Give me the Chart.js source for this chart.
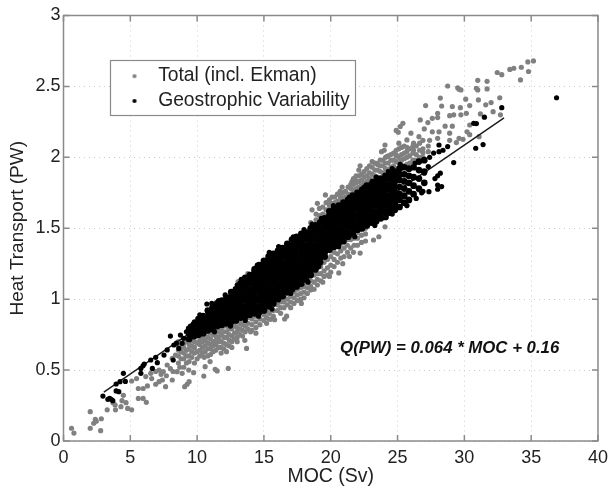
<!DOCTYPE html>
<html>
<head>
<meta charset="utf-8">
<title>Heat transport vs MOC</title>
<script src="https://cdn.jsdelivr.net/npm/chart.js@4"></script>
<style>
    html, body { margin: 0; padding: 0; background: #fff; }
    canvas { display: block; }
</style>
</head>
<body>
<canvas id="myChart" width="614" height="486"></canvas>
<script>
// Axis ticks
const xTicks = [0, 5, 10, 15, 20, 25, 30, 35, 40];
const yTicks = [0, 0.5, 1, 1.5, 2, 2.5, 3];

const seriesNames = ["Total (incl. Ekman)", "Geostrophic Variability"];
const equationText = "Q(PW) = 0.064 * MOC + 0.16";

// Fit line
const fitX = [3.02, 32.97];
const fitY = [0.345, 2.278];

// Grey dots, scattered ones as [x, y]
const totalScatter = [
    [.6,.09],[.78,.056],[2,.207],[2,.09],[2.78,.073],[2.83,.157],[2.38,.153],[2.26,.125],[2.45,.14],
    [3.27,.22],[3.86,.254],[3.89,.22],[4.3,.242],[4.68,.27],[4.8,.23],[5.1,.22],[4.38,.284],[4.48,.322],[3.7,.27],
    [5.6,.37],[5.6,.3],[5.96,.3],[6.2,.273],[6.28,.388],[5.96,.37],[5.1,.423],[5.47,.44],[6.16,.454],[6.53,.477],
    [6.9,.49],[7.15,.5],[7.47,.49],[7.15,.418],[7.4,.43],[7.64,.383],[6.9,.4],[8.14,.43],[7.76,.536],[8.14,.583],
    [8.38,.606],[8.5,.489],[8.88,.477],[9.07,.383],[9.25,.4],[9.4,.418],[9.37,.5],[9.74,.482],[10.5,.458],[10.6,.524],
    [11.35,.505],[11.5,.494],[12.33,.512],[10.53,.59],[10.97,.56],[7.3,.47],[7.7,.46],[8.2,.49],[8.7,.52],[6.6,.44],
    [8,.51],[13.7,.653],[13.57,.71],[14,.77],[15.5,.858],[15.8,.855],[16.55,.86],[16.7,.88],[13.07,1.124],[13.8,1.18],
    [14.3,1.218],[14.7,1.24],
    [35.17,2.68],[34.75,2.673],[34.26,2.635],[33.7,2.628],[33.4,2.62],[34.8,2.605],[34.2,2.546],[32.46,2.598],[32.8,2.583],
    [31,2.543],[31.7,2.536],[28.75,2.503],[29.5,2.49],[29.74,2.475],[29.6,2.48],[30.9,2.487],[31,2.475],[31.7,2.482],
    [28.2,2.418],[30.1,2.41],[31.05,2.405],[32.65,2.42],[32,2.386],[31.6,2.37],[30.4,2.365],[29.7,2.35],[29.1,2.358],
    [28.3,2.362],[27.1,2.365],[28,2.31],[28.9,2.294],[29.2,2.3],[29.74,2.3],[30.15,2.31],[31.2,2.306],[32.15,2.322],
    [32.7,2.3],[26.7,2.264],[27.6,2.275],[27.27,2.245],[28,2.28],[25.4,2.24],[25.2,2.217],[24.9,2.19],[25.05,2.177],
    [27,2.2],[28.56,2.22],[29.1,2.22],[30.4,2.228],[28.9,2.17],[30.2,2.18],[30.4,2.16],[31.1,2.146],[28.1,2.18],[27.6,2.18],
    [29.6,2.134],[29.9,2.127],[29.4,2.104],[28.9,2.12],[28,2.134],[27.4,2.12],[26,2.17],[25.7,2.123],[26.6,2.146],[26.2,2.1],
    [24.06,2.087],[23.8,2.04],[24,2.05],[25.7,2.04],[26.2,2.05],[26.9,2.033],[24.9,2.017],[24.2,2.005],[23.4,1.958],
    [22.2,1.94],[22.1,1.91],[21.85,1.84],[21.6,1.83],[20.85,1.79],[20.7,1.76],[20,1.676],[19.6,1.735],[19,1.676],[18.6,1.63],
    [23.2,1.417],[23.6,1.44],[24.06,1.51],[25.7,1.66],[26.6,1.77],[22.2,1.325],[21.7,1.33],[21.4,1.3],[20.6,1.185],[20.9,1.25],
    [18.5,1.065],[17.8,.97],[19.4,1.12],[19.9,1.16]
];

// Grey dense parts as [x, y, y, ...] columns
const totalLower = [
    [8.6,.55,.6,.64,.67,.7],[8.8,.58,.63,.68],[9,.52,.58,.62,.66,.69,.72],[9.2,.55,.6,.64,.7],[9.4,.56,.6,.65,.68,.72,.75],
    [9.6,.59,.63,.67,.71],[9.8,.55,.62,.66,.7,.73,.77],[10,.58,.63,.69,.74],[10.2,.6,.64,.68,.71,.75],[10.4,.62,.66,.7,.73,.77],
    [10.6,.63,.67,.71,.74,.78],[10.8,.6,.65,.69,.73,.77],[11,.61,.65,.68,.72,.76,.8],[11.2,.63,.67,.7,.75,.79],[11.4,.64,.68,.71,.74,.78,.82],
    [11.6,.66,.7,.73,.77,.81],[11.8,.62,.66,.7,.75,.79,.83],[12,.65,.69,.73,.77,.81],[12.2,.63,.68,.73,.77,.81,.85],[12.4,.67,.71,.75,.79,.83],
    [12.6,.66,.7,.74,.79,.83],[12.8,.72,.76,.81,.85],[13,.7,.73,.77,.8,.84,.88],[13.2,.75,.79,.83,.87],[13.4,.74,.78,.82,.86,.9],
    [13.6,.77,.81,.85,.89],[13.8,.79,.83,.87,.91],[14.1,.78,.82,.86,.9],[14.4,.76,.8,.84,.88,.92],[14.7,.82,.86,.9,.94],
    [15,.85,.89,.93,.97],[15.2,.83,.87,.91,.95],[15.4,.86,.9,.94,.98],[15.7,.88,.92,.96,1],[16,.92,.96,1,1.03],[16.25,.9,.94,.98,1.02],
    [16.5,.94,.98,1.02],[16.75,.96,1,1.04],[17,.94,.98,1.02,1.06],[17.25,.97,1.01,1.05],[17.5,.99,1.03,1.07,1.11],[17.75,1,1.04,1.08],
    [18,1.01,1.05,1.09,1.13],[18.25,1.04,1.08,1.12],[18.5,1.09,1.13,1.17],[18.75,1.07,1.12,1.17],[19,1.1,1.14,1.18,1.22],[19.25,1.13,1.18,1.23],
    [19.5,1.16,1.2,1.26],[19.75,1.17,1.22,1.28],[20,1.19,1.24,1.3,1.34],[20.25,1.23,1.28,1.33],[20.5,1.26,1.32,1.38],
    [20.75,1.29,1.34,1.39],[21,1.3,1.36,1.4],[21.25,1.33,1.38,1.42],[21.5,1.36,1.42],[21.75,1.38,1.43],[22,1.38,1.43,1.47],[22.3,1.4,1.45,1.49],[22.6,1.41,1.46,1.5]
];
const totalUpper = [
    [18.5,1.5,1.54],[18.9,1.52,1.56,1.6],[19.15,1.55,1.59,1.64],[19.4,1.56,1.6,1.65],[19.65,1.59,1.63,1.68],[19.9,1.62,1.66,1.7],
    [20.1,1.63,1.67,1.72],[20.3,1.64,1.68,1.72],[20.5,1.65,1.69,1.74],[20.7,1.66,1.7,1.73],[20.9,1.67,1.71,1.75],
    [21.1,1.68,1.72,1.76],[21.3,1.7,1.74,1.79],[21.5,1.7,1.74,1.78,1.81],[21.7,1.73,1.77,1.81,1.85],[21.9,1.74,1.78,1.82,1.87],[22.1,1.75,1.79,1.83,1.87],
    [22.3,1.76,1.8,1.84,1.88],[22.5,1.78,1.82,1.86,1.9],[22.7,1.79,1.83,1.87,1.92],[22.9,1.8,1.85,1.89,1.94],
    [23.1,1.8,1.84,1.88,1.93,1.97],[23.3,1.83,1.87,1.91,1.96],[23.5,1.82,1.86,1.91,1.95],[23.7,1.85,1.9,1.94,1.98],[23.9,1.84,1.89,1.94,1.98],[24.1,1.87,1.92,1.96,2],
    [24.3,1.87,1.91,1.96,2.01],[24.5,1.89,1.93,1.98,2.02],[24.7,1.9,1.94,1.98,2.03],[24.9,1.92,1.97,2.01,2.05],[25.1,1.92,1.96,2,2.06,2.1],[25.3,1.94,1.98,2.02,2.07],
    [25.5,1.94,1.99,2.03,2.08],[25.7,1.95,2,2.07],[25.9,1.96,2.01,2.06],[26.15,1.98,2.03,2.08],[26.4,1.98,2.02,2.08],[26.65,2,2.05,2.1],
    [26.9,2,2.06,2.12],[27.3,2.04,2.08]
];

// Black dots
const geoScatter = [
    [2.95,.317],[3.32,.294],[3.57,.294],[3.69,.284],[3.45,.3],[3.94,.353],[4.14,.348],[3.94,.402],[4.23,.418],[4.63,.42],
    [4.48,.477],[5.79,.512],[5.79,.477],[6.04,.543],[5.95,.53],[6.65,.512],[6.53,.571],[6.9,.59],[7.02,.552],[7.52,.606],
    [8.21,.571],[8,.74],[8.75,.747],[8.88,.689],[8.26,.677],[7.76,.642],[8.63,.653],[9,.724],[8.45,.69],[10.73,.966],[11.1,.97],
    [36.9,2.42],[32.8,2.35],[31.5,2.283],[30.7,2.24],[30.9,2.238],[30.85,2.064],[31.4,2.09],[29.2,1.963],[28.1,2.087],
    [28.75,2.076],[28.4,2.05],[28.1,2.04],[27.7,2.03],[27.4,2],[28.2,1.888],[28,1.87],[28.3,1.794],[28,1.805],[28,1.775],
    [27.35,1.758],[26.9,1.76],[26.4,1.71],[27,1.888],[27.3,1.935],[26.3,1.958],[25.4,1.935],[24.6,1.92],[23.4,1.86],
    [9.2,.77],[9.5,.81],[9.8,.84],[10.2,.89],[11.6,.99],[12.1,1.03],[13,1.1],[13.3,1.14],[14.5,1.24],[15.4,1.33],[16.1,1.37],
    [17.2,1.44],[18,1.49],[18.6,1.53],[19.3,1.57],[20.2,1.66],[21.4,1.72],[22.5,1.79],[23.1,1.83],[24.3,1.9],[25.2,1.95],
    [11.3,.77],[12.5,.81],[13.6,.85],[14.6,.88],[15.6,.93],[17,1.04],[18.3,1.12],[19.1,1.23],[20.6,1.37],[21.8,1.44],[23.3,1.52],
    [24.6,1.6],[25.7,1.66],[26.8,1.75],[27.8,1.85]
];
const geoCore = [
    [9.4,.72,.76,.79],[9.75,.74,.78,.82],[10.1,.75,.79,.83,.86],[10.45,.76,.8,.84,.88],[10.8,.78,.81,.85,.88,.92],
    [11.15,.79,.83,.86,.9,.94],[11.5,.81,.84,.88,.91,.95,.97],[11.85,.82,.86,.89,.93,.96,.99],[12.2,.83,.87,.9,.94,.97,1.01],
    [12.55,.84,.88,.92,.95,.99,1.02,1.05],[12.9,.85,.89,.93,.96,1,1.03,1.07],[13.25,.87,.91,.94,.98,1.01,1.05,1.08,1.11],
    [13.6,.88,.92,.95,.99,1.02,1.06,1.09,1.13,1.15],[13.95,.89,.93,.97,1,1.04,1.07,1.11,1.14,1.17],
    [14.3,.9,.94,.98,1.01,1.05,1.08,1.12,1.15,1.19,1.21],[14.65,.91,.95,.99,1.02,1.06,1.09,1.13,1.16,1.2,1.24],
    [15,.92,.96,1,1.03,1.07,1.1,1.14,1.17,1.21,1.24,1.27],[15.35,.95,.99,1.02,1.06,1.09,1.13,1.16,1.2,1.23,1.27,1.3],
    [15.7,.97,1,1.04,1.07,1.11,1.14,1.18,1.21,1.25,1.28,1.32],[16.05,1,1.03,1.07,1.1,1.14,1.17,1.21,1.24,1.28,1.31,1.34],
    [16.4,1.02,1.05,1.09,1.12,1.16,1.19,1.23,1.26,1.3,1.33,1.36],[16.75,1.05,1.08,1.12,1.15,1.19,1.22,1.26,1.29,1.33,1.36,1.39],
    [17.1,1.07,1.1,1.14,1.17,1.21,1.24,1.28,1.31,1.35,1.38,1.42],[17.45,1.09,1.12,1.16,1.19,1.23,1.26,1.3,1.33,1.37,1.4,1.44],
    [17.8,1.11,1.15,1.18,1.22,1.25,1.29,1.32,1.36,1.39,1.43,1.46],[18.15,1.14,1.17,1.21,1.24,1.28,1.31,1.35,1.38,1.42,1.45,1.47],
    [18.5,1.17,1.2,1.24,1.27,1.31,1.34,1.38,1.41,1.45,1.48,1.5],[18.85,1.21,1.24,1.28,1.31,1.35,1.38,1.42,1.45,1.49,1.52],
    [19.2,1.26,1.29,1.33,1.36,1.4,1.43,1.47,1.5,1.54],[19.55,1.3,1.33,1.37,1.4,1.44,1.47,1.51,1.54,1.57],
    [19.9,1.35,1.38,1.42,1.45,1.49,1.52,1.56,1.59,1.62],[20.25,1.37,1.4,1.44,1.47,1.51,1.54,1.58,1.61,1.64],
    [20.6,1.4,1.43,1.47,1.5,1.54,1.57,1.61,1.64,1.66],[20.95,1.41,1.45,1.48,1.52,1.55,1.59,1.62,1.65,1.68],
    [21.3,1.44,1.47,1.51,1.54,1.58,1.61,1.65,1.68,1.7],[21.65,1.46,1.5,1.53,1.57,1.6,1.64,1.67,1.71,1.73],
    [22,1.49,1.52,1.56,1.59,1.63,1.66,1.7,1.73,1.75],[22.35,1.5,1.54,1.57,1.61,1.64,1.68,1.71,1.75,1.77],
    [22.7,1.52,1.56,1.59,1.63,1.66,1.7,1.73,1.77,1.8],[23.05,1.54,1.58,1.61,1.65,1.68,1.72,1.75,1.79,1.81],
    [23.4,1.55,1.59,1.62,1.66,1.7,1.73,1.77,1.8,1.83],[23.75,1.57,1.61,1.65,1.68,1.72,1.75,1.79,1.82,1.85],
    [24.1,1.58,1.62,1.66,1.7,1.73,1.77,1.8,1.84,1.87],[24.45,1.61,1.65,1.69,1.73,1.77,1.81,1.85,1.88],
    [24.8,1.63,1.67,1.71,1.75,1.79,1.83,1.87,1.9],[25.15,1.65,1.7,1.74,1.79,1.84,1.88,1.92],
    [25.5,1.68,1.73,1.78,1.83,1.88,1.93],[25.85,1.7,1.76,1.82,1.87,1.92],[26.2,1.74,1.8,1.86,1.93],
    [26.6,1.78,1.85,1.91,1.97],[27,1.82,1.9,1.98]
];

const GREY = "#808080";
const BLACK = "#000000";
const FRAME = "#8a8a8a";
const TEXT = "#222222";
const FONT = "'Liberation Sans', Arial, sans-serif";

function pairsToPoints(pairs) {
    return pairs.map((p) => ({ x: p[0], y: p[1] }));
}

function columnsToPoints(columns) {
    const points = [];
    columns.forEach((col) => {
        col.slice(1).forEach((y) => points.push({ x: col[0], y: y }));
    });
    return points;
}

// small round marker for the legend, so the legend gap can be wider than the dot
function legendDot(color) {
    const dot = document.createElement("canvas");
    dot.width = 6;
    dot.height = 6;
    const c = dot.getContext("2d");
    c.fillStyle = color;
    c.beginPath();
    c.arc(3, 3, 2.1, 0, Math.PI * 2);
    c.fill();
    return dot;
}

// frame on four sides, inward ticks, legend box, equation
const framePlugin = {
    id: "frame",
    afterLayout(chart) {
        const legend = chart.legend;
        legend.left = 115;
        legend.right = 356;
        legend.top = 61;
        // bottom is left roomy, the legend wraps to a new column if the rows overflow it
        legend.bottom = 140;
    },
    beforeDatasetsDraw(chart) {
        const c = chart.ctx;
        c.save();
        c.fillStyle = "#fff";
        c.strokeStyle = FRAME;
        c.lineWidth = 1.2;
        c.fillRect(110.5, 60.5, 245, 55);
        c.strokeRect(110.5, 60.5, 245, 55);
        c.restore();
        chart.legend.draw();
    },
    afterDraw(chart) {
        const c = chart.ctx;
        const a = chart.chartArea;
        c.save();
        c.strokeStyle = FRAME;
        c.lineWidth = 1.5;
        c.strokeRect(a.left, a.top, a.right - a.left, a.bottom - a.top);
        c.beginPath();
        xTicks.forEach((v) => {
            const px = chart.scales.x.getPixelForValue(v);
            c.moveTo(px, a.bottom);
            c.lineTo(px, a.bottom - 6);
            c.moveTo(px, a.top);
            c.lineTo(px, a.top + 6);
        });
        yTicks.forEach((v) => {
            const py = chart.scales.y.getPixelForValue(v);
            c.moveTo(a.left, py);
            c.lineTo(a.left + 6, py);
            c.moveTo(a.right, py);
            c.lineTo(a.right - 6, py);
        });
        c.stroke();
        c.fillStyle = "#111";
        c.font = "italic bold 16.8px " + FONT;
        c.textBaseline = "middle";
        c.fillText(equationText, chart.scales.x.getPixelForValue(20.7), chart.scales.y.getPixelForValue(0.655));
        c.restore();
    },
};

var ctx = document.getElementById("myChart").getContext("2d");

var myChart = new Chart(ctx, {
    type: "scatter",
    data: {
        datasets: [
            {
                label: seriesNames[0],
                data: pairsToPoints(totalScatter).concat(columnsToPoints(totalLower), columnsToPoints(totalUpper)),
                backgroundColor: GREY,
                borderColor: GREY,
                pointRadius: 2.6,
                pointBorderWidth: 0,
                order: 5,
            },
            {
                label: "fit",
                data: fitX.map((x, i) => ({ x: x, y: fitY[i] })),
                showLine: true,
                borderColor: "#1a1a1a",
                borderWidth: 1.4,
                pointRadius: 0,
                order: 4,
            },
            {
                // solid middle of the black cloud
                label: seriesNames[1] + " core",
                data: columnsToPoints(geoCore),
                backgroundColor: BLACK,
                borderColor: BLACK,
                pointRadius: 3.35,
                pointBorderWidth: 0,
                order: 3,
            },
            {
                label: seriesNames[1],
                data: pairsToPoints(geoScatter),
                backgroundColor: BLACK,
                borderColor: BLACK,
                pointRadius: 2.6,
                pointBorderWidth: 0,
                order: 2,
            },
        ],
    },
    options: {
        responsive: false,
        animation: false,
        layout: { padding: { top: 15.5, right: 10.3, bottom: 0, left: 0 } },
        plugins: {
            tooltip: { enabled: false },
            legend: {
                position: "chartArea",
                align: "start",
                labels: {
                    usePointStyle: true,
                    boxHeight: 6,
                    pointStyleWidth: 28,
                    padding: 5.5,
                    color: TEXT,
                    font: { family: FONT, size: 19.3 },
                    generateLabels: () => [
                        { text: seriesNames[0], pointStyle: legendDot(GREY), fontColor: TEXT, lineWidth: 0, strokeStyle: "transparent" },
                        { text: seriesNames[1], pointStyle: legendDot(BLACK), fontColor: TEXT, lineWidth: 0, strokeStyle: "transparent" },
                    ],
                },
            },
        },
        scales: {
            x: {
                type: "linear",
                min: 0,
                max: 40,
                afterFit: (s) => { s.height = 45; },
                afterBuildTicks: (s) => { s.ticks = xTicks.map((v) => ({ value: v })); },
                grid: { color: "#cccccc", drawTicks: false },
                border: { display: false, dash: [1, 4] },
                ticks: { color: TEXT, padding: 6, maxRotation: 0, font: { family: FONT, size: 18 }, callback: (v) => String(v) },
                title: { display: true, text: "MOC (Sv)", color: TEXT, padding: 0, font: { family: FONT, size: 19.5, lineHeight: 1 } },
            },
            y: {
                type: "linear",
                min: 0,
                max: 3,
                afterFit: (s) => { s.width = 63.5; },
                afterBuildTicks: (s) => { s.ticks = yTicks.map((v) => ({ value: v })); },
                grid: { color: "#cccccc", drawTicks: false },
                border: { display: false, dash: [1, 4] },
                ticks: { color: TEXT, padding: 3, font: { family: FONT, size: 18 }, callback: (v) => String(v) },
                title: { display: true, text: "Heat Transport (PW)", color: TEXT, padding: { top: 6, bottom: 0 }, font: { family: FONT, size: 19 } },
            },
        },
    },
    plugins: [framePlugin],
});
</script>
</body>
</html>
